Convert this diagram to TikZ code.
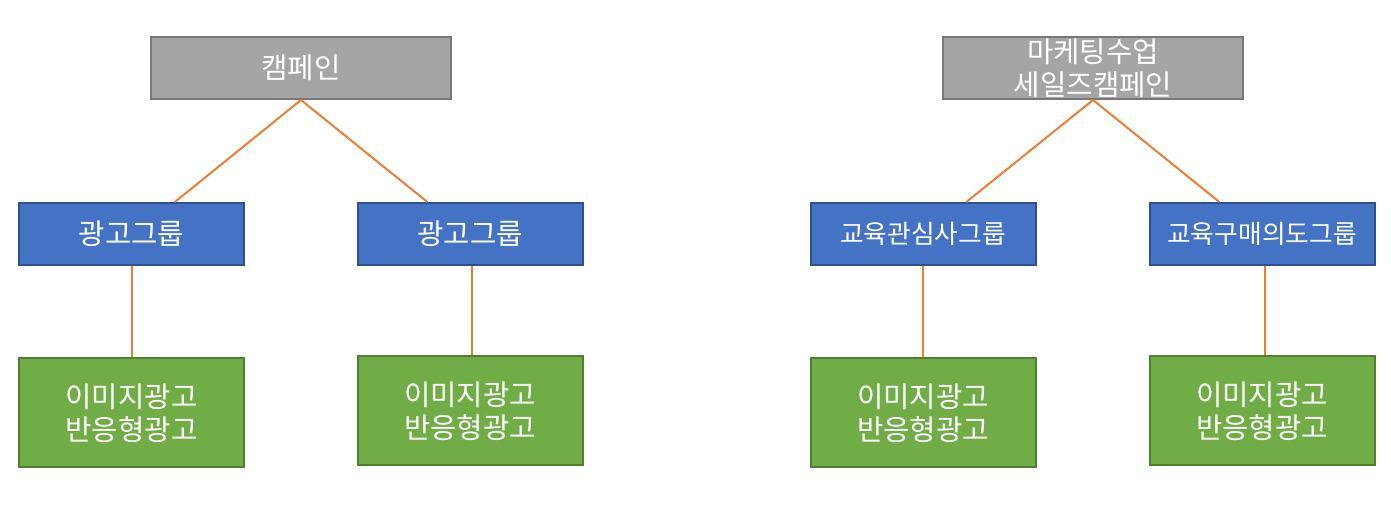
\documentclass[tikz,border=0pt]{standalone}
\usepackage{fontspec}
\newfontfamily\krfont{Noto Sans CJK KR}
\usepackage{tikz}
\usetikzlibrary{positioning}
\definecolor{campgray}{HTML}{A5A5A5}
\definecolor{campline}{HTML}{787878}
\definecolor{grpblue}{HTML}{4472C4}
\definecolor{grpline}{HTML}{2F528F}
\definecolor{adgreen}{HTML}{70AD47}
\definecolor{adline}{HTML}{507E32}
\definecolor{linkorange}{HTML}{ED7D31}
\tikzset{
  kr/big/.style={font=\krfont\fontsize{21.5}{24.75}\selectfont, text=white, align=center},
  kr/small/.style={font=\krfont\fontsize{19.3}{22}\selectfont, text=white, align=center},
  campaign/.style={kr/big, draw=campline, fill=campgray, line width=1.5pt, minimum width=225pt, minimum height=46.5pt, inner sep=0pt},
  adgroup/.style={kr/big, draw=grpline, fill=grpblue, line width=1.5pt, minimum width=168.75pt, minimum height=46.5pt, inner sep=0pt},
  adgroupsm/.style={adgroup, kr/small},
  ads/.style={kr/big, draw=adline, fill=adgreen, line width=1.5pt, minimum width=168.75pt, minimum height=81.75pt, inner sep=0pt},
  link/.style={draw=linkorange, line width=1.5pt}
}

\begin{document}
\begin{tikzpicture}[x=0.75pt, y=-0.75pt]
\useasboundingbox (0,0) rectangle (1391,506);

% left campaign
\node[campaign] (camp1) at (301,68) {캠페인};
\node[adgroup] (g1) at (131.5,234) {광고그룹};
\node[adgroup] (g2) at (470,234) {광고그룹};
\node[ads, below=68.5pt of g1] (ad1) {이미지광고\\반응형광고};
\node[ads, below=67pt of g2] (ad2) {이미지광고\\반응형광고};

\draw[link] (camp1.south) -- ([xshift=32.5pt]g1.north);
\draw[link] (camp1.south) -- ([xshift=-32pt]g2.north);
\draw[link] (g1) -- (ad1);
\draw[link] ([xshift=1.5pt]g2.south) -- ([xshift=1.5pt]ad2.north);

% right campaign
\node[campaign] (camp2) at (1093,68) {마케팅수업\\세일즈캠페인};
\node[adgroupsm] (g3) at (923,234) {교육관심사그룹};
\node[adgroupsm] (g4) at (1262,234) {교육구매의도그룹};
\node[ads, below=68.5pt of g3] (ad3) {이미지광고\\반응형광고};
\node[ads, below=67pt of g4] (ad4) {이미지광고\\반응형광고};

\draw[link] (camp2.south) -- ([xshift=32.5pt]g3.north);
\draw[link] (camp2.south) -- ([xshift=-32pt]g4.north);
\draw[link] (g3) -- (ad3);
\draw[link] ([xshift=2pt]g4.south) -- ([xshift=2pt]ad4.north);
\end{tikzpicture}
\end{document}
